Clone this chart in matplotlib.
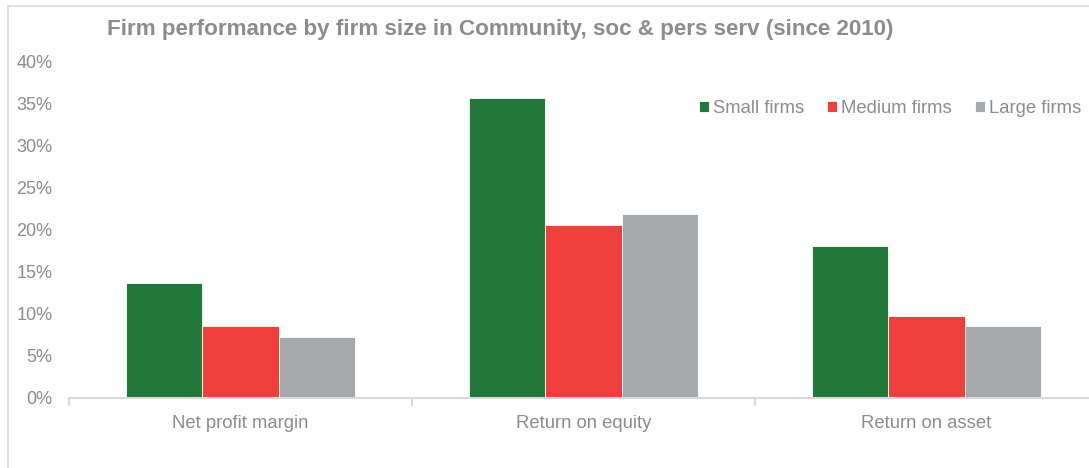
import matplotlib
matplotlib.use("Agg")
import matplotlib.pyplot as plt
from matplotlib.patches import Rectangle
import numpy as np

categories = ["Net profit margin", "Return on equity", "Return on asset"]
series_names = ["Small firms", "Medium firms", "Large firms"]
small_firms = [13.7, 35.6, 18.0]
medium_firms = [8.6, 20.5, 9.7]
large_firms = [7.2, 21.8, 8.5]
y_ticks = [0, 5, 10, 15, 20, 25, 30, 35, 40]

colors = ["#21783A", "#EF3E3B", "#A5A9AB"]
text_gray = "#8C8C8C"
line_gray = "#D9D9D9"

plt.rcParams["font.family"] = ["Liberation Sans", "DejaVu Sans"]

W, H = 1089, 468
fig = plt.figure(figsize=(W / 100, H / 100), dpi=100)

# outer chart frame
fig.patches.append(Rectangle((8 / W, -0.1), 1.2, (1 - 6 / H) + 0.1,
                             transform=fig.transFigure, fill=False,
                             edgecolor="#D9D9D9", linewidth=1.2))

x0, x1 = 69, 1098
y0, y1 = 398, 61
ax = fig.add_axes([x0 / W, 1 - y0 / H, (x1 - x0) / W, (y0 - y1) / H])
ax.set_facecolor("none")

x = np.arange(len(categories))
bw = 0.223
for i, (vals, name) in enumerate(zip([small_firms, medium_firms, large_firms], series_names)):
    ax.bar(x + (i - 1) * bw, vals, width=bw, color=colors[i], label=name,
           edgecolor="white", linewidth=0.6, zorder=2)

ax.set_xlim(-0.5, len(categories) - 0.5)
ax.set_ylim(0, 40)
ax.set_yticks(y_ticks)
ax.set_yticklabels([f"{v}%" for v in y_ticks])
ax.set_xticks(x)
ax.set_xticklabels(categories)
ax.set_xticks(np.arange(len(categories)) - 0.5, minor=True)

for s in ["top", "right", "left"]:
    ax.spines[s].set_visible(False)
ax.spines["bottom"].set_color(line_gray)
ax.spines["bottom"].set_linewidth(1.5)

ax.tick_params(axis="y", length=0, pad=12, labelsize=13, labelcolor=text_gray)
ax.tick_params(axis="x", which="major", length=0, pad=12, labelsize=13.3, labelcolor=text_gray)
ax.tick_params(axis="x", which="minor", length=6, width=1.5, color=line_gray)

fig.text(107 / W, 1 - 29 / H, "Firm performance by firm size in Community, soc & pers serv (since 2010)",
         fontsize=16.1, fontweight="bold", color=text_gray, ha="left", va="center")

leg = ax.legend(loc="upper right", bbox_to_anchor=(1090 / W, 1 - 91 / H),
                bbox_transform=fig.transFigure, ncol=3, frameon=False,
                fontsize=13.3, handlelength=0.55, handleheight=0.55,
                handletextpad=0.2, columnspacing=1.25, borderpad=0)
for t in leg.get_texts():
    t.set_color(text_gray)

fig.savefig("out.png", dpi=100)
